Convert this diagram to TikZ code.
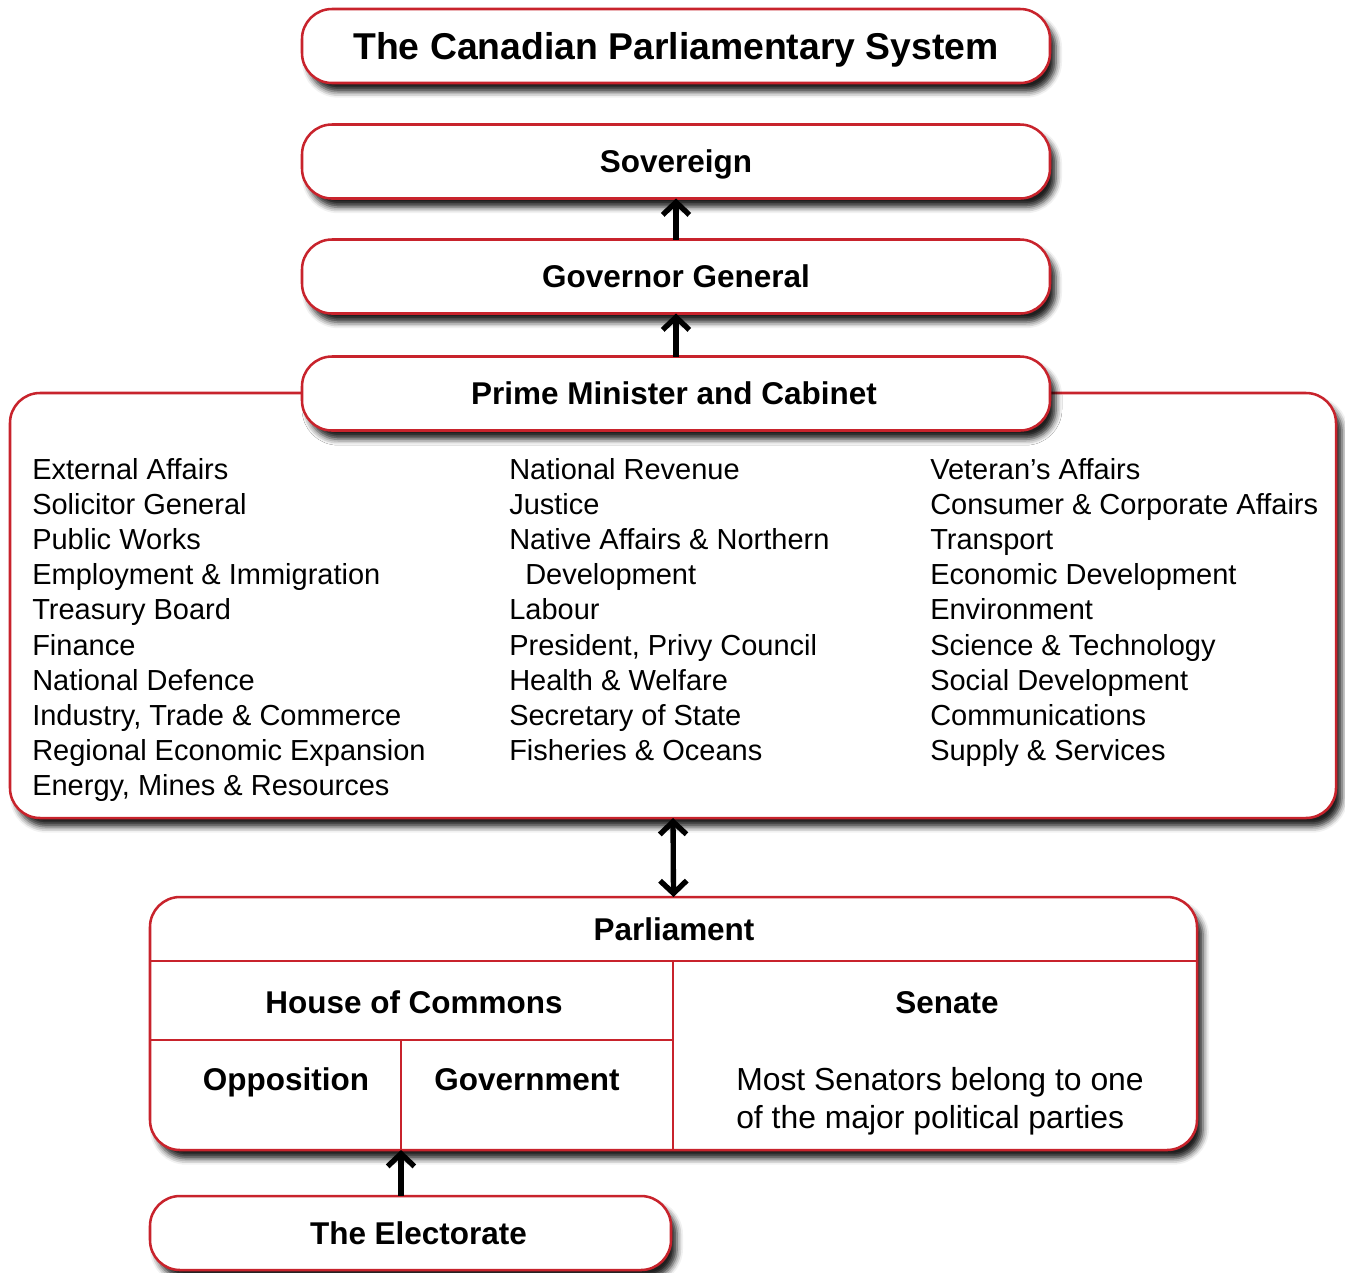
\documentclass[tikz,border=0pt]{standalone}
\usepackage{fontspec}
\setmainfont{Liberation Sans}
\usetikzlibrary{arrows.meta,shadows.blur}
\definecolor{frame}{HTML}{C8232C}
\begin{document}
\begin{tikzpicture}[x=0.75pt,y=-0.75pt,
  box/.style={draw=frame, line width=1.9pt, fill=white, rounded corners=22.5pt,
    inner sep=0pt, outer sep=0pt, text height=16.9pt, text depth=-1.5pt,
    blur shadow={shadow xshift=4.5pt, shadow yshift=-6.5pt, shadow blur radius=4.5pt, shadow opacity=88}},
  headbox/.style={box, minimum width=561pt, minimum height=55.5pt,
    font=\bfseries\fontsize{23.6}{28}\selectfont},
  titlebox/.style={headbox, text height=20pt, font=\bfseries\fontsize{28}{33}\selectfont},
  rule/.style={draw=frame, line width=1.9pt},
  item/.style={anchor=base west, inner sep=0pt, font=\fontsize{21.75}{26.4}\selectfont},
  note/.style={anchor=base west, inner sep=0pt, font=\fontsize{23.9}{28}\selectfont},
  head/.style={anchor=base, inner sep=0pt, font=\bfseries\fontsize{23.6}{28}\selectfont},
  barb/.tip={Straight Barb[length=9.5pt, width=20pt, line width=4pt]},
  conn/.style={draw=black, line width=4pt, -barb},
  both/.style={draw=black, line width=4pt, barb-barb}
]
\useasboundingbox (0,0) rectangle (1345,1272);

% cabinet frame
\node[box, minimum width=994.5pt, minimum height=318.75pt] (cab) at (673,605.5) {};

% heading boxes
\node[titlebox] (title) at (676,46) {The Canadian Parliamentary System};
\node[headbox] (sov) at (676,161.5) {Sovereign};
\node[headbox] (gg) at (676,276.5) {Governor General};
\node[headbox] (pm) at (676,393.5) {Prime Minister and Cabinet\hspace*{3pt}};

\draw[conn] (gg.north) -- (sov.south);
\draw[conn] (pm.north) -- (gg.south);

% portfolios
\foreach \t [count=\i from 0] in {External Affairs, Solicitor General, Public Works,
  Employment \& Immigration, Treasury Board, Finance, National Defence,
  {Industry, Trade \& Commerce}, Regional Economic Expansion, {Energy, Mines \& Resources}}
  \node[item] (a\i) at (32,{479+35.2*\i}) {\t};
\foreach \t [count=\i from 0] in {National Revenue, Justice, Native Affairs \& Northern,
  {\hspace*{12pt}Development}, Labour, {President, Privy Council}, Health \& Welfare,
  Secretary of State, Fisheries \& Oceans}
  \node[item] (b\i) at (509,{479+35.2*\i}) {\t};
\foreach \t [count=\i from 0] in {Veteran’s Affairs, Consumer \& Corporate Affairs, Transport,
  Economic Development, Environment, Science \& Technology, Social Development,
  Communications, Supply \& Services}
  \node[item] (c\i) at (930,{479+35.2*\i}) {\t};

% parliament
\node[box, minimum width=785.25pt, minimum height=189.75pt] (parl) at (673.5,1023.5) {};
\draw[both] (cab.south) -- (parl.north);
\coordinate (l1a) at (150,961);  \coordinate (l1b) at (1197,961);
\coordinate (l2a) at (150,1040); \coordinate (l2b) at (673,1040);
\coordinate (v1a) at (673,961);  \coordinate (v1b) at (673,1150);
\coordinate (v2a) at (401,1040); \coordinate (v2b) at (401,1150);
\draw[rule] (l1a) -- (l1b);
\draw[rule] (l2a) -- (l2b);
\draw[rule] (v1a) -- (v1b);
\draw[rule] (v2a) -- (v2b);

\node[head] (parlt) at (674,940) {Parliament};
\node[head] (hoc) at (414,1013) {House of Commons};
\node[head] (sen) at (947,1013) {Senate};
\node[head] (opp) at (286,1090) {Opposition};
\node[head] (gov) at (527,1090) {Government};
\node[note] (s1) at (736,1090) {Most Senators belong to one};
\node[note] (s2) at (736,1128) {of the major political parties};

% electorate
\node[box, minimum width=390.75pt, minimum height=55.5pt,
  font=\bfseries\fontsize{23.6}{28}\selectfont] (elec) at (410.5,1233) {\hspace*{12pt}The Electorate};
\coordinate (gbase) at (401,1150);
\draw[conn] (elec.north -| gbase) -- (gbase);
\end{tikzpicture}
\end{document}
